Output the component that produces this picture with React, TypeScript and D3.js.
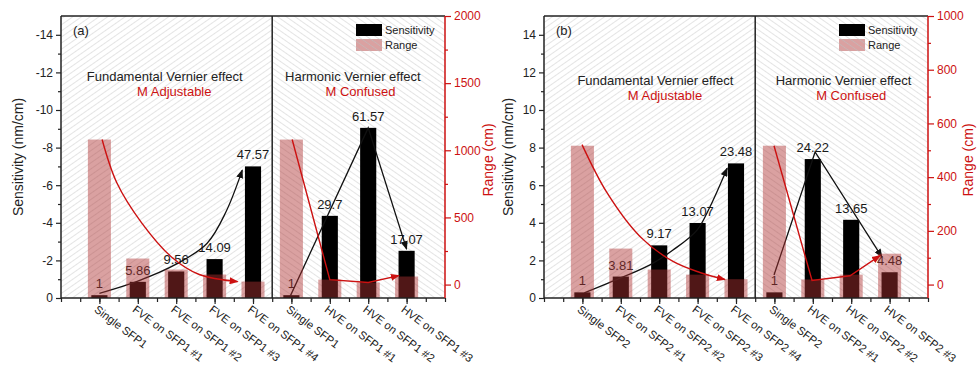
import React, { useEffect, useRef } from 'react';
import * as d3 from 'd3';

// panel (a) : SFP1
const categoriesA = ['Single SFP1', 'FVE on SFP1 #1', 'FVE on SFP1 #2', 'FVE on SFP1 #3', 'FVE on SFP1 #4', 'Single SFP1', 'HVE on SFP1 #1', 'HVE on SFP1 #2', 'HVE on SFP1 #3'];
const sensitivityA = [0.15, 0.86, 1.41, 2.07, 7.0, 0.15, 4.37, 9.05, 2.51];
const rangeA = [1080, 194, 112, 75, 22, 1080, 37, 15, 60];
const factorLabelsA = ['1', '5.86', '9.56', '14.09', '47.57', '1', '29.7', '61.57', '17.07'];
const rangeTicksA = [0, 500, 1000, 1500, 2000];
const rangeMinorA = [250, 750, 1250, 1750];
// trend arrows: [category position, value]
const fveSensTrendA = [[1.0, 0.25], [2.0, 0.9], [3.0, 1.8], [3.8, 2.9], [4.3, 4.6], [4.72, 6.8]];
const fveRangeTrendA = [[1.07, 1080], [1.45, 760], [2.1, 460], [2.9, 200], [3.6, 75], [4.6, 22]];
const hveSensTrendA = [[5.97, 0.1], [8.0, 9.05], [9.0, 2.6]];
const hveRangeTrendA = [[6.02, 1080], [7.0, 37], [8.0, 15], [8.8, 67]];

// panel (b) : SFP2
const categoriesB = ['Single SFP2', 'FVE on SFP2 #1', 'FVE on SFP2 #2', 'FVE on SFP2 #3', 'FVE on SFP2 #4', 'Single SFP2', 'HVE on SFP2 #1', 'HVE on SFP2 #2', 'HVE on SFP2 #3'];
const sensitivityB = [0.3, 1.14, 2.8, 3.99, 7.16, 0.3, 7.39, 4.16, 1.37];
const rangeB = [517, 134, 56, 37, 20, 517, 19, 37, 115];
const factorLabelsB = ['1', '3.81', '9.17', '13.07', '23.48', '1', '24.22', '13.65', '4.48'];
const rangeTicksB = [0, 200, 400, 600, 800, 1000];
const rangeMinorB = [100, 300, 500, 700, 900];
const fveSensTrendB = [[1.05, 0.27], [2.06, 1.12], [2.76, 1.76], [3.36, 2.55], [3.98, 3.6], [4.32, 4.84], [4.77, 6.9]];
const fveRangeTrendB = [[0.99, 521], [1.64, 342], [2.5, 179], [3.36, 86], [4.06, 45], [4.71, 19]];
const hveSensTrendB = [[5.99, 1.22], [7.06, 7.77], [8.8, 2.18]];
const hveRangeTrendB = [[5.99, 517], [6.98, 15], [7.97, 33], [8.75, 108]];

const sensTicks = [0, 2, 4, 6, 8, 10, 12, 14];
const sensMinor = [1, 3, 5, 7, 9, 11, 13];

const RED = '#cc1111';
const PINK = '#ae3232';
const FONT = 'Liberation Sans, Arial, sans-serif';

function drawPanel(root, p) {
  const top = 16, bottom = 298;
  const left = p.left, right = p.left + 384;
  const x = d3.scaleLinear().domain([0, 10]).range([left, right]);
  const yS = d3.scaleLinear().domain([0, 15]).range([bottom, top]);
  const yR = d3.scaleLinear().domain(p.rangeDomain).range([bottom, top]);
  const mid = x(5.5);
  const g = root.append('g');

  // hatched background, "/" for FVE and "\" for HVE
  g.append('rect').attr('x', left).attr('y', top).attr('width', mid - left).attr('height', bottom - top).attr('fill', 'url(#hatchFwd)');
  g.append('rect').attr('x', mid).attr('y', top).attr('width', right - mid).attr('height', bottom - top).attr('fill', 'url(#hatchBack)');

  const idx = p.categories.map((c, i) => i + 1);

  // sensitivity bars
  g.selectAll('.sens').data(p.sensitivity).enter().append('rect')
    .attr('x', (d, i) => x(idx[i] - 0.21))
    .attr('width', x(0.42) - x(0))
    .attr('y', d => yS(d))
    .attr('height', d => bottom - yS(d))
    .attr('fill', '#000');

  // enhancement factor labels
  g.selectAll('.lab').data(p.factors).enter().append('text')
    .attr('x', (d, i) => x(idx[i]))
    .attr('y', (d, i) => yS(p.sensitivity[i]) - 7)
    .attr('text-anchor', 'middle')
    .attr('font-size', 13)
    .attr('fill', '#1a1a1a')
    .text(d => d);

  const curved = d3.line().x(d => x(d[0])).y(d => yS(d[1])).curve(d3.curveCatmullRom);
  const straight = d3.line().x(d => x(d[0])).y(d => yS(d[1]));
  g.append('path').attr('d', curved(p.fveSens)).attr('fill', 'none').attr('stroke', '#111').attr('stroke-width', 1.3).attr('marker-end', 'url(#arrowBlack)');
  g.append('path').attr('d', straight(p.hveSens)).attr('fill', 'none').attr('stroke', '#111').attr('stroke-width', 1.3).attr('marker-end', 'url(#arrowBlack)');

  // range bars (semi transparent, on top)
  g.selectAll('.rng').data(p.range).enter().append('rect')
    .attr('x', (d, i) => x(idx[i] - 0.3))
    .attr('width', x(0.6) - x(0))
    .attr('y', d => yR(d))
    .attr('height', d => bottom - yR(d))
    .attr('fill', PINK)
    .attr('fill-opacity', 0.46);

  const curvedR = d3.line().x(d => x(d[0])).y(d => yR(d[1])).curve(d3.curveCatmullRom);
  const straightR = d3.line().x(d => x(d[0])).y(d => yR(d[1]));
  g.append('path').attr('d', curvedR(p.fveRange)).attr('fill', 'none').attr('stroke', RED).attr('stroke-width', 1.4).attr('marker-end', 'url(#arrowRed)');
  g.append('path').attr('d', straightR(p.hveRange)).attr('fill', 'none').attr('stroke', RED).attr('stroke-width', 1.4).attr('marker-end', 'url(#arrowRed)');

  // axes
  const styleAxis = (sel, color) => {
    sel.select('.domain').remove();
    sel.selectAll('line').attr('stroke', color).attr('stroke-width', 1.2);
    sel.selectAll('text').attr('fill', color).attr('font-size', 12).attr('font-family', FONT);
  };
  g.append('g').attr('transform', `translate(${left},0)`)
    .call(d3.axisLeft(yS).tickValues(sensTicks).tickSize(5).tickPadding(3).tickFormat(p.sensFormat))
    .call(s => styleAxis(s, '#222'));
  g.append('g').attr('transform', `translate(${left},0)`)
    .call(d3.axisLeft(yS).tickValues(sensMinor).tickSize(3).tickFormat(() => ''))
    .call(s => styleAxis(s, '#222'));
  g.append('g').attr('transform', `translate(${right},0)`)
    .call(d3.axisRight(yR).tickValues(p.rangeTicks).tickSize(6).tickPadding(3).tickFormat(d => String(d)))
    .call(s => styleAxis(s, RED));
  g.append('g').attr('transform', `translate(${right},0)`)
    .call(d3.axisRight(yR).tickValues(p.rangeMinor).tickSize(3).tickFormat(() => ''))
    .call(s => styleAxis(s, RED));
  g.append('g').attr('transform', `translate(0,${bottom})`)
    .call(d3.axisBottom(x).tickValues(d3.range(0, 10.01, 0.5)).tickSize(4).tickFormat(() => ''))
    .call(s => styleAxis(s, '#222'));
  g.append('g').attr('transform', `translate(0,${bottom})`)
    .call(d3.axisBottom(x).tickValues(idx).tickSize(6).tickFormat(() => ''))
    .call(s => styleAxis(s, '#222'));

  // frame
  g.append('line').attr('x1', left).attr('x2', right).attr('y1', top).attr('y2', top).attr('stroke', '#222').attr('stroke-width', 1.5);
  g.append('line').attr('x1', left).attr('x2', right).attr('y1', bottom).attr('y2', bottom).attr('stroke', '#222').attr('stroke-width', 1.5);
  g.append('line').attr('x1', left).attr('x2', left).attr('y1', top).attr('y2', bottom).attr('stroke', '#222').attr('stroke-width', 1.5);
  g.append('line').attr('x1', right).attr('x2', right).attr('y1', top).attr('y2', bottom).attr('stroke', RED).attr('stroke-width', 1.5);
  g.append('line').attr('x1', mid).attr('x2', mid).attr('y1', top).attr('y2', bottom).attr('stroke', '#222').attr('stroke-width', 1.5);

  // category labels
  g.selectAll('.cat').data(p.categories).enter().append('text')
    .attr('transform', (d, i) => `translate(${x(idx[i]) - 6},${bottom + 13}) rotate(37)`)
    .attr('font-size', 11.3)
    .attr('fill', '#222')
    .text(d => d);

  // axis titles
  g.append('text')
    .attr('transform', `translate(${left - p.titleOffset},${(top + bottom) / 2}) rotate(-90)`)
    .attr('text-anchor', 'middle').attr('font-size', 14).attr('fill', '#222')
    .text('Sensitivity (nm/cm)');
  g.append('text')
    .attr('transform', `translate(${right + p.rightTitleOffset},${(top + bottom) / 2 + 3}) rotate(-90)`)
    .attr('text-anchor', 'middle').attr('font-size', 14).attr('fill', RED)
    .text('Range (cm)');

  // annotations
  g.append('text').attr('x', left + 12).attr('y', 35).attr('font-size', 13).attr('fill', '#222').text(p.tag);
  g.append('text').attr('x', x(p.fveTextPos)).attr('y', p.textY).attr('text-anchor', 'middle').attr('font-size', 13).attr('fill', '#222').text('Fundamental Vernier effect');
  g.append('text').attr('x', x(p.fveTextPos + 0.25)).attr('y', p.textY + 15).attr('text-anchor', 'middle').attr('font-size', 13).attr('fill', RED).text('M Adjustable');
  g.append('text').attr('x', x(p.hveTextPos)).attr('y', p.textY).attr('text-anchor', 'middle').attr('font-size', 13).attr('fill', '#222').text('Harmonic Vernier effect');
  g.append('text').attr('x', x(p.hveTextPos + 0.2)).attr('y', p.textY + 15).attr('text-anchor', 'middle').attr('font-size', 13).attr('fill', RED).text('M Confused');

  // legend
  const lx = right - 89;
  g.append('rect').attr('x', lx).attr('y', 24).attr('width', 26).attr('height', 12).attr('fill', '#000');
  g.append('rect').attr('x', lx).attr('y', 39).attr('width', 26).attr('height', 12).attr('fill', PINK).attr('fill-opacity', 0.46);
  g.append('rect').attr('x', lx).attr('y', 39).attr('width', 26).attr('height', 12).attr('fill', 'url(#hatchBack)');
  g.append('text').attr('x', lx + 29).attr('y', 34).attr('font-size', 11).attr('fill', '#222').text('Sensitivity');
  g.append('text').attr('x', lx + 29).attr('y', 49).attr('font-size', 11).attr('fill', '#222').text('Range');
}

export default function App() {
  const svgRef = useRef(null);

  useEffect(() => {
    document.body.style.margin = '0';
    const svg = d3.select(svgRef.current);
    svg.selectAll('*').remove();

    const defs = svg.append('defs');
    [['hatchFwd', 55], ['hatchBack', -55]].forEach(([id, angle]) => {
      defs.append('pattern')
        .attr('id', id)
        .attr('patternUnits', 'userSpaceOnUse')
        .attr('width', 5).attr('height', 5)
        .attr('patternTransform', `rotate(${angle})`)
        .append('line')
        .attr('x1', 0).attr('y1', 0).attr('x2', 0).attr('y2', 5)
        .attr('stroke', '#cdcdcd').attr('stroke-width', 1.1);
    });
    [['arrowBlack', '#111'], ['arrowRed', RED]].forEach(([id, color]) => {
      defs.append('marker')
        .attr('id', id)
        .attr('markerUnits', 'userSpaceOnUse')
        .attr('markerWidth', 9).attr('markerHeight', 7)
        .attr('refX', 8).attr('refY', 3.5)
        .attr('orient', 'auto')
        .append('path').attr('d', 'M0,0 L9,3.5 L0,7 Z').attr('fill', color);
    });

    const root = svg.append('g').attr('font-family', FONT);
    root.append('rect').attr('width', 977).attr('height', 367).attr('fill', '#fff');

    drawPanel(root, {
      left: 61, tag: '(a)', categories: categoriesA, sensitivity: sensitivityA, range: rangeA, factors: factorLabelsA,
      rangeDomain: [-100, 2000], rangeTicks: rangeTicksA, rangeMinor: rangeMinorA,
      sensFormat: d => (d === 0 ? '0' : '-' + d), titleOffset: 38, rightTitleOffset: 48,
      fveSens: fveSensTrendA, fveRange: fveRangeTrendA, hveSens: hveSensTrendA, hveRange: hveRangeTrendA,
      fveTextPos: 2.7, hveTextPos: 7.6, textY: 81,
    });
    drawPanel(root, {
      left: 544, tag: '(b)', categories: categoriesB, sensitivity: sensitivityB, range: rangeB, factors: factorLabelsB,
      rangeDomain: [-50, 1000], rangeTicks: rangeTicksB, rangeMinor: rangeMinorB,
      sensFormat: d => String(d), titleOffset: 31, rightTitleOffset: 45,
      fveSens: fveSensTrendB, fveRange: fveRangeTrendB, hveSens: hveSensTrendB, hveRange: hveRangeTrendB,
      fveTextPos: 2.9, hveTextPos: 7.8, textY: 85,
    });
  }, []);

  return <svg ref={svgRef} width={977} height={367} style={{ display: 'block' }} />;
}
